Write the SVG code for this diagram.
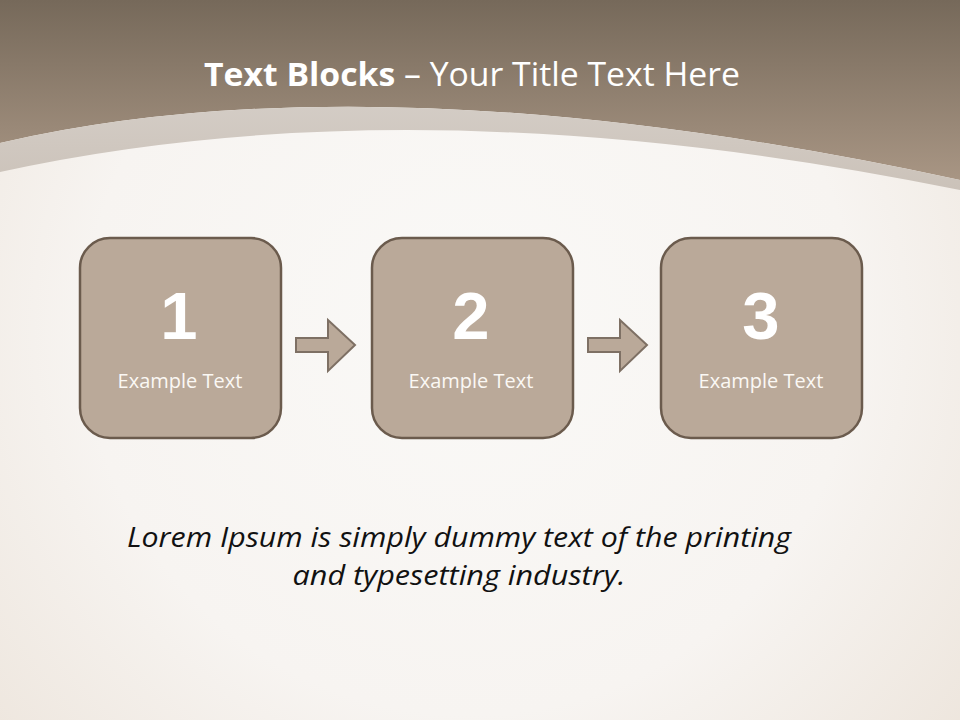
<svg xmlns="http://www.w3.org/2000/svg" width="960" height="720" viewBox="0 0 960 720">
<defs>
<linearGradient id="top" x1="0" y1="0" x2="0" y2="190" gradientUnits="userSpaceOnUse">
<stop offset="0" stop-color="#76695a"/>
<stop offset="1" stop-color="#ab9886"/>
</linearGradient>
<linearGradient id="band" x1="0" y1="100" x2="0" y2="190" gradientUnits="userSpaceOnUse">
<stop offset="0" stop-color="#d4cdc6"/>
<stop offset="1" stop-color="#cbc2b9"/>
</linearGradient>
<radialGradient id="bg" cx="470" cy="330" r="700" gradientUnits="userSpaceOnUse">
<stop offset="0" stop-color="#faf9f7"/>
<stop offset="0.55" stop-color="#f7f4f1"/>
<stop offset="1" stop-color="#ebe2d8"/>
</radialGradient>
<style>
.box{fill:#baa999;stroke:#6b5b4d;stroke-width:2.5}
.arr{fill:#baa999;stroke:#7e7064;stroke-width:2}
.num{font-family:"Liberation Sans",Arial,sans-serif;font-weight:bold;font-size:67px;fill:#ffffff;text-anchor:middle}
.lbl{font-family:"Open Sans","Noto Sans",sans-serif;font-size:20px;fill:#fbf8f4;text-anchor:middle}
</style>
</defs>
<rect x="0" y="0" width="960" height="720" fill="url(#bg)"/>
<path d="M0,0 H960 V180 Q380,55 0,143 Z" fill="url(#top)"/>
<path d="M0,143 Q380,55 960,180 V190 Q420,80 0,172 Z" fill="url(#band)"/>
<text x="472" y="86" font-family="'Open Sans','Noto Sans',sans-serif" font-size="33" fill="#ffffff" text-anchor="middle" textLength="536" lengthAdjust="spacingAndGlyphs"><tspan font-weight="bold">Text Blocks</tspan> – Your Title Text Here</text>
<g id="connectors">
<path class="arr" d="M296,338 H328 V320 L355,345 L328,371 V352 H296 Z"/>
<path class="arr" d="M588,338 H620 V320 L647,345 L620,371 V352 H588 Z"/>
</g>
<g id="node1">
<rect class="box" x="80" y="238" width="201" height="200" rx="30"/>
<text class="num" x="179" y="339">1</text>
<text class="lbl" x="180" y="388">Example Text</text>
</g>
<g id="node2">
<rect class="box" x="372" y="238" width="201" height="200" rx="30"/>
<text class="num" x="471" y="339">2</text>
<text class="lbl" x="471" y="388">Example Text</text>
</g>
<g id="node3">
<rect class="box" x="661" y="238" width="201" height="200" rx="30"/>
<text class="num" x="761" y="339">3</text>
<text class="lbl" x="761" y="388">Example Text</text>
</g>
<g id="caption" font-family="'Open Sans','Noto Sans',sans-serif" font-style="italic" font-size="27" fill="#111111" text-anchor="middle">
<text x="459" y="547" textLength="664" lengthAdjust="spacingAndGlyphs">Lorem Ipsum is simply dummy text of the printing</text>
<text x="459" y="585" textLength="333" lengthAdjust="spacingAndGlyphs">and typesetting industry.</text>
</g>
</svg>
